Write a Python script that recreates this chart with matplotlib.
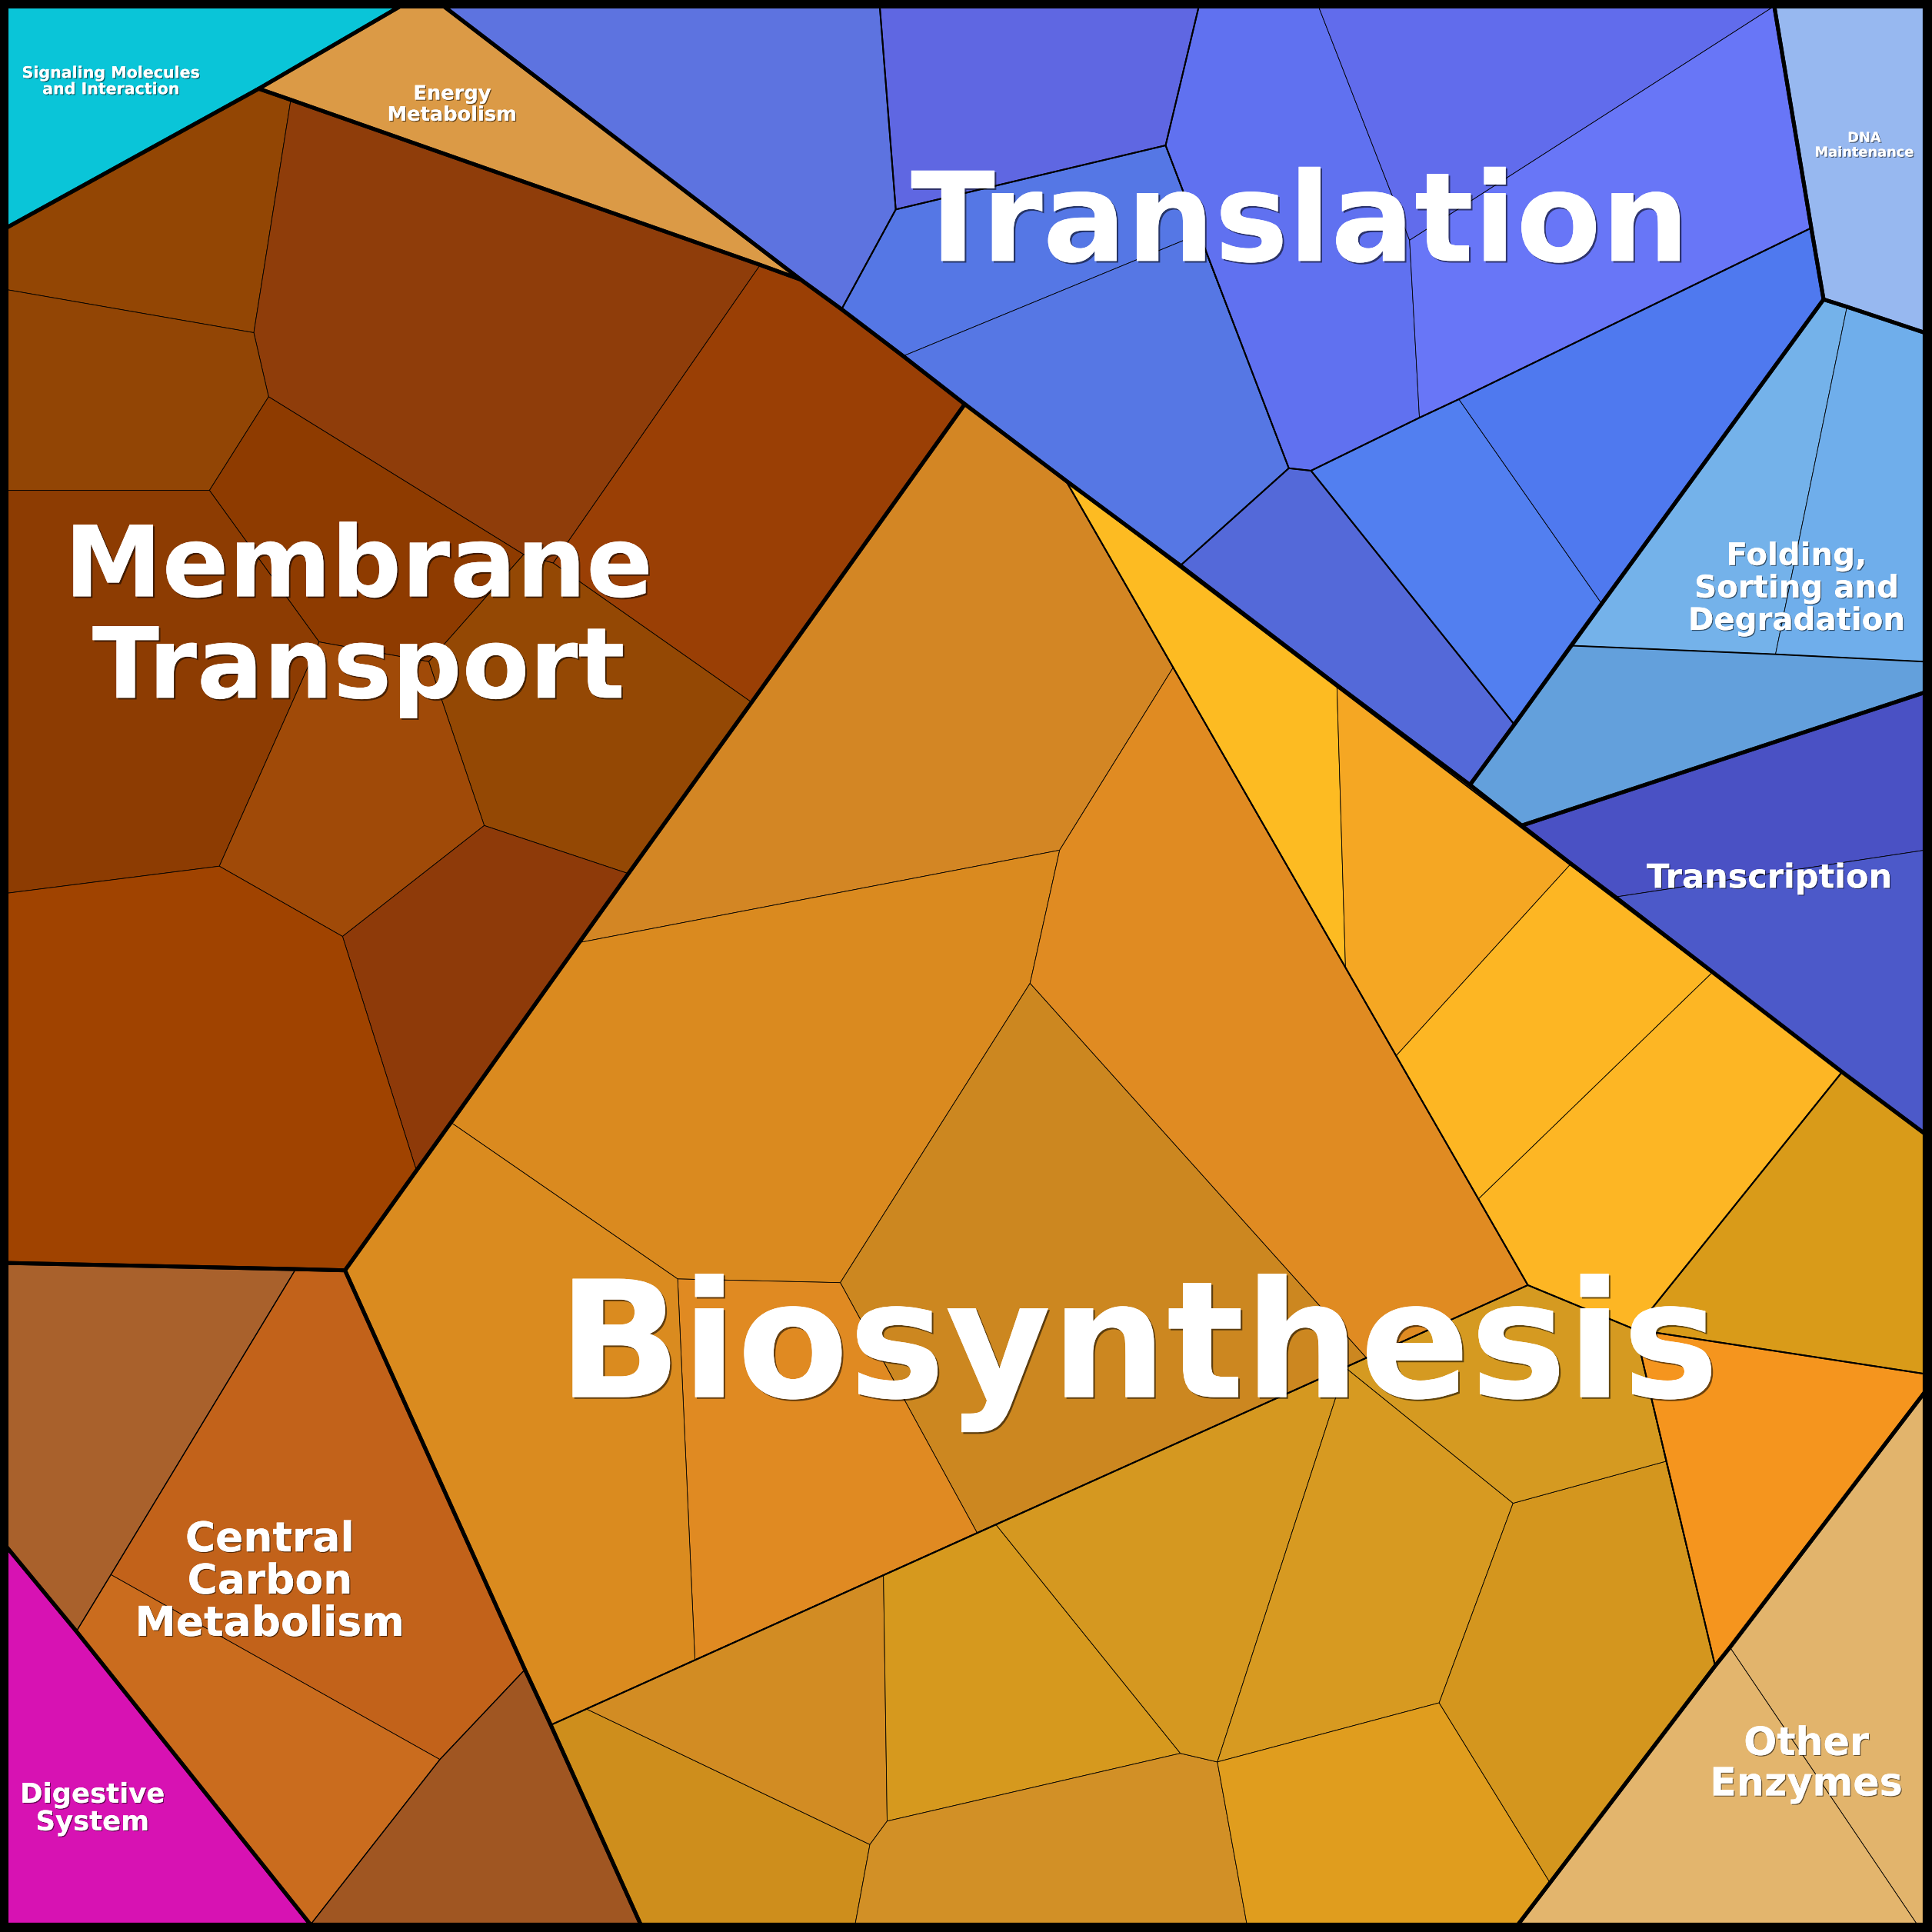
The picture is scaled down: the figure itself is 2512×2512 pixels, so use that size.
import matplotlib
matplotlib.use("Agg")
import matplotlib.pyplot as plt
from matplotlib.patches import Polygon
import matplotlib.patheffects as pe

# ---------------- DATA (Voronoi treemap cells, canvas units 0..1568, y down) ----------------
signaling_cells = [[(5, 5), (325, 5), (210, 72), (5, 185)]]
signaling_colors = ["#0AC5D8"]

energy_cells = [[(325, 5), (360, 5), (650, 227), (617, 215), (236, 81), (210, 72)]]
energy_colors = ["#DB9A46"]

membrane_cells = [
    [(5, 185), (210, 72), (236, 81), (206, 270), (5, 235)],
    [(236, 81), (617, 215), (449, 457), (425, 450), (218, 322), (206, 270)],
    [(5, 235), (206, 270), (218, 322), (170, 398), (5, 398)],
    [(218, 322), (425, 450), (348, 537), (259, 521), (170, 398)],
    [(5, 398), (170, 398), (259, 521), (178, 703), (5, 725)],
    [(617, 215), (650, 227), (683, 251), (733, 289), (783, 328), (610, 570), (449, 457)],
    [(425, 450), (449, 457), (610, 570), (510, 709), (393, 670), (348, 537)],
    [(259, 521), (348, 537), (393, 670), (278, 760), (178, 703)],
    [(393, 670), (510, 709), (338, 950), (278, 760)],
    [(5, 725), (178, 703), (278, 760), (338, 950), (280, 1031), (240, 1030), (5, 1025)],
]
membrane_colors = ["#934604", "#8F3D0A", "#924505", "#8E3B00", "#8D3C02",
                   "#9A3F05", "#944804", "#A04A08", "#8E3A09", "#A04300"]

translation_cells = [
    [(360, 5), (714, 5), (727, 170), (683, 251), (650, 227)],
    [(714, 5), (973, 5), (946, 118), (727, 170)],
    [(727, 170), (946, 118), (973, 190), (733, 289), (683, 251)],
    [(733, 289), (973, 190), (1046, 380), (958, 459), (865, 390), (783, 328)],
    [(973, 5), (1070, 5), (1144, 195), (1152, 339), (1064, 382), (1046, 380), (946, 118)],
    [(1070, 5), (1440, 5), (1144, 195)],
    [(1440, 5), (1470, 185), (1184, 324), (1152, 339), (1144, 195)],
    [(958, 459), (1046, 380), (1064, 382), (1229, 588), (1193, 637), (1085, 556)],
    [(1064, 382), (1152, 339), (1184, 324), (1300, 490), (1229, 588)],
    [(1184, 324), (1470, 185), (1480, 243), (1300, 490)],
]
translation_colors = ["#5D73E0", "#5F67E2", "#5577E5", "#5677E4", "#6071F0",
                      "#616CEC", "#6876F7", "#5469D9", "#527FF0", "#4F79EF"]

dna_cells = [[(1440, 5), (1562, 5), (1562, 270), (1499, 249), (1480, 243), (1470, 185)]]
dna_colors = ["#97B8F0"]

folding_cells = [
    [(1480, 243), (1499, 249), (1441, 531), (1275, 524)],
    [(1499, 249), (1562, 270), (1562, 537), (1441, 531)],
    [(1275, 524), (1441, 531), (1562, 537), (1562, 562), (1235, 670), (1193, 637), (1229, 588)],
]
folding_colors = ["#74B2EA", "#6FAEEB", "#63A0DC"]

transcription_cells = [
    [(1235, 670), (1562, 562), (1562, 690), (1311, 728), (1275, 701)],
    [(1311, 728), (1562, 690), (1562, 920), (1495, 870), (1390, 789)],
]
transcription_colors = ["#4A51C4", "#4C59C9"]

biosynthesis_cells = [
    [(783, 328), (865, 390), (952, 542), (860, 690), (470, 765), (510, 709), (610, 570)],
    [(470, 765), (860, 690), (836, 798), (682, 1041), (550, 1038), (366, 911)],
    [(836, 798), (1109, 1102), (793, 1244), (682, 1041)],
    [(550, 1038), (682, 1041), (793, 1244), (564, 1347)],
    [(366, 911), (550, 1038), (564, 1347), (447, 1400), (426, 1355), (280, 1031), (338, 950)],
    [(952, 542), (1240, 1043), (1109, 1102), (836, 798), (860, 690)],
    [(865, 390), (958, 459), (1085, 556), (1092, 785)],
    [(1085, 556), (1193, 637), (1235, 670), (1275, 701), (1133, 857), (1092, 785)],
    [(1133, 857), (1275, 701), (1311, 728), (1390, 789), (1200, 973)],
    [(1200, 973), (1390, 789), (1495, 870), (1327, 1079), (1240, 1043)],
    [(1495, 870), (1562, 920), (1562, 1115), (1327, 1079)],
    [(1327, 1079), (1562, 1115), (1562, 1130), (1404, 1337), (1392, 1352)],
    [(447, 1400), (476, 1387), (706, 1497), (694, 1562), (520, 1562)],
    [(476, 1387), (717, 1278), (720, 1478), (706, 1497)],
    [(717, 1278), (808, 1237), (958, 1423), (720, 1478)],
    [(706, 1497), (720, 1478), (958, 1423), (988, 1430), (1012, 1562), (694, 1562)],
    [(808, 1237), (1092, 1110), (988, 1430), (958, 1423)],
    [(1092, 1110), (1228, 1220), (1168, 1382), (988, 1430)],
    [(988, 1430), (1168, 1382), (1258, 1528), (1232, 1562), (1012, 1562)],
    [(1228, 1220), (1352, 1186), (1392, 1352), (1258, 1528), (1168, 1382)],
    [(1092, 1110), (1240, 1043), (1327, 1079), (1352, 1186), (1228, 1220)],
]
biosynthesis_colors = ["#D38624", "#DA8A1F", "#CC8720", "#E08A22", "#DA8B1F", "#E08B22",
                       "#FDBB22", "#F5A723", "#FDB623", "#FDB624", "#D99B19", "#F5951E",
                       "#CE8E1C", "#D28C23", "#D6991E", "#D29026", "#D59820", "#D79A21",
                       "#E09D1E", "#D4961E", "#D59A21"]

central_cells = [
    [(5, 1025), (240, 1030), (90, 1278), (62, 1324), (5, 1255)],
    [(240, 1030), (280, 1031), (426, 1355), (357, 1428), (90, 1278)],
    [(62, 1324), (90, 1278), (357, 1428), (252, 1562)],
    [(357, 1428), (426, 1355), (447, 1400), (520, 1562), (252, 1562)],
]
central_colors = ["#A9612C", "#C2621A", "#CA6C1E", "#A05622"]

digestive_cells = [[(5, 1255), (62, 1324), (252, 1562), (5, 1562)]]
digestive_colors = ["#D712B3"]

other_cells = [
    [(1562, 1130), (1562, 1562), (1556, 1562), (1404, 1337)],
    [(1404, 1337), (1556, 1562), (1232, 1562), (1258, 1528), (1392, 1352)],
]
other_colors = ["#E2B46C", "#E3B56D"]

# second-level (sub-group) outlines
subgroup_outlines = [
    [(360, 5), (714, 5), (727, 170), (683, 251), (650, 227)],
    [(714, 5), (973, 5), (946, 118), (727, 170)],
    [(727, 170), (946, 118), (1046, 380), (958, 459), (865, 390), (783, 328), (733, 289), (683, 251)],
    [(973, 5), (1440, 5), (1470, 185), (1184, 324), (1152, 339), (1064, 382), (1046, 380), (946, 118)],
    [(958, 459), (1046, 380), (1064, 382), (1229, 588), (1193, 637), (1085, 556)],
    [(1064, 382), (1152, 339), (1184, 324), (1470, 185), (1480, 243), (1300, 490), (1229, 588)],
    [(1480, 243), (1499, 249), (1562, 270), (1562, 537), (1441, 531), (1275, 524)],
    [(783, 328), (865, 390), (1240, 1043), (447, 1400), (280, 1031)],
    [(865, 390), (1240, 1043), (1327, 1079), (1495, 870)],
    [(1495, 870), (1562, 920), (1562, 1115), (1327, 1079)],
    [(1327, 1079), (1562, 1115), (1562, 1130), (1404, 1337), (1392, 1352)],
    [(447, 1400), (1240, 1043), (1327, 1079), (1392, 1352), (1258, 1528), (1232, 1562), (520, 1562)],
]
central_sub_outlines = [
    [(5, 1025), (240, 1030), (90, 1278), (62, 1324), (5, 1255)],
    [(357, 1428), (426, 1355), (447, 1400), (520, 1562), (252, 1562)],
]

# top-level group outlines
group_outlines = [
    [(5, 5), (325, 5), (210, 72), (5, 185)],
    [(325, 5), (360, 5), (650, 227), (617, 215), (236, 81), (210, 72)],
    [(5, 185), (210, 72), (236, 81), (617, 215), (650, 227), (683, 251), (733, 289), (783, 328),
     (610, 570), (510, 709), (470, 765), (366, 911), (338, 950), (280, 1031), (240, 1030), (5, 1025)],
    [(360, 5), (1440, 5), (1470, 185), (1480, 243), (1300, 490), (1229, 588), (1193, 637),
     (1085, 556), (958, 459), (865, 390), (783, 328), (733, 289), (683, 251), (650, 227)],
    [(1440, 5), (1562, 5), (1562, 270), (1499, 249), (1480, 243), (1470, 185)],
    [(1480, 243), (1499, 249), (1562, 270), (1562, 562), (1235, 670), (1193, 637), (1229, 588), (1275, 524)],
    [(1235, 670), (1562, 562), (1562, 920), (1495, 870), (1390, 789), (1311, 728), (1275, 701)],
    [(783, 328), (865, 390), (958, 459), (1085, 556), (1193, 637), (1235, 670), (1275, 701), (1311, 728),
     (1390, 789), (1495, 870), (1562, 920), (1562, 1130), (1404, 1337), (1392, 1352), (1258, 1528),
     (1232, 1562), (520, 1562), (447, 1400), (426, 1355), (280, 1031), (338, 950), (366, 911),
     (470, 765), (510, 709), (610, 570)],
    [(5, 1025), (240, 1030), (280, 1031), (426, 1355), (447, 1400), (520, 1562), (252, 1562), (62, 1324), (5, 1255)],
    [(5, 1255), (62, 1324), (252, 1562), (5, 1562)],
    [(1562, 1130), (1562, 1562), (1232, 1562), (1258, 1528), (1392, 1352), (1404, 1337)],
]

group_labels = ["Signaling Molecules\nand Interaction", "Energy\nMetabolism", "Membrane\nTransport",
                "Translation", "DNA\nMaintenance", "Folding,\nSorting and\nDegradation",
                "Transcription", "Biosynthesis", "Central\nCarbon\nMetabolism",
                "Digestive\nSystem", "Other\nEnzymes"]

# ---------------- LAYOUT / STYLE ----------------
label_pos = [(90, 66), (367, 85), (291, 503), (1055, 184), (1513, 118), (1458, 478),
             (1436, 713), (924, 1098), (219, 1284), (75, 1468), (1466, 1432)]
label_size = [14.8, 18.5, 92, 116, 12.8, 29, 31, 152, 38.5, 25.5, 36.5]

THICK, MEDIUM, THIN = 3.6, 1.4, 0.6

fig = plt.figure(figsize=(25.12, 25.12), dpi=100, facecolor="black")
ax = fig.add_axes([0, 0, 1, 1])
ax.set_xlim(0, 1568)
ax.set_ylim(1568, 0)
ax.set_axis_off()

all_groups = [
    (signaling_cells, signaling_colors), (energy_cells, energy_colors),
    (membrane_cells, membrane_colors), (translation_cells, translation_colors),
    (dna_cells, dna_colors), (folding_cells, folding_colors),
    (transcription_cells, transcription_colors), (biosynthesis_cells, biosynthesis_colors),
    (central_cells, central_colors), (digestive_cells, digestive_colors),
    (other_cells, other_colors),
]
for cells, colors in all_groups:
    for verts, col in zip(cells, colors):
        ax.add_patch(Polygon(verts, closed=True, facecolor=col, edgecolor="black",
                             linewidth=THIN, joinstyle="miter"))

for verts in subgroup_outlines:
    ax.add_patch(Polygon(verts, closed=True, fill=False, edgecolor="black",
                         linewidth=MEDIUM, joinstyle="miter"))
for verts in central_sub_outlines:
    ax.add_patch(Polygon(verts, closed=True, fill=False, edgecolor="black",
                         linewidth=1.0, joinstyle="miter"))
for verts in group_outlines:
    ax.add_patch(Polygon(verts, closed=True, fill=False, edgecolor="black",
                         linewidth=THICK, joinstyle="miter"))

ax.add_patch(Polygon([(5, 5), (1562, 5), (1562, 1562), (5, 1562)], closed=True, fill=False,
                     edgecolor="black", linewidth=THICK, joinstyle="miter"))

for text, (x, y), fs in zip(group_labels, label_pos, label_size):
    off = max(0.9, min(1.6, fs / 60.0))
    ax.text(x, y, text, ha="center", va="center", ma="center", fontsize=fs,
            fontweight="bold", color="white", family="DejaVu Sans", linespacing=1.07,
            path_effects=[pe.withSimplePatchShadow(offset=(off, -off), shadow_rgbFace="black", alpha=0.55),
                          pe.Normal()])

fig.savefig("out.png", dpi=100, facecolor="black")
